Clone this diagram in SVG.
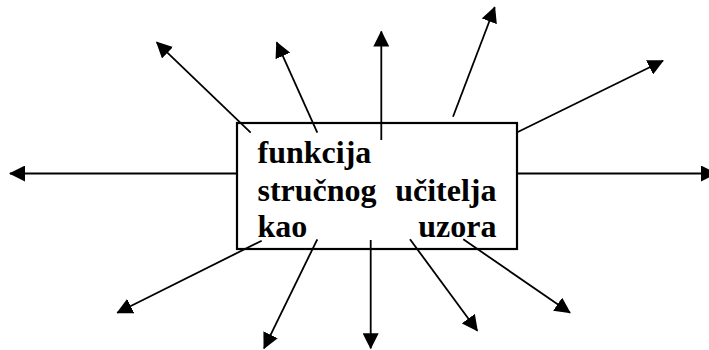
<svg xmlns="http://www.w3.org/2000/svg" width="709" height="350" viewBox="0 0 709 350">
  <style>
    .box { fill: #ffffff; stroke: #000000; stroke-width: 2.2; }
    .lbl { font-family: "Liberation Serif", "Times New Roman", serif; font-weight: bold; font-size: 32px; fill: #000000; }
    .end { text-anchor: end; }
    .conn line { stroke: #000000; stroke-width: 1.8; marker-end: url(#ah); }
  </style>
  <defs>
    <marker id="ah" markerUnits="userSpaceOnUse" markerWidth="16" markerHeight="16" viewBox="0 0 16 16" refX="15" refY="8" orient="auto">
      <path d="M0,0 L16,8 L0,16 z" fill="#000000"/>
    </marker>
  </defs>
  <g id="node-center">
    <rect class="box" x="237" y="123" width="280" height="126"/>
    <text class="lbl" x="257.5" y="163.3" font-family="Liberation Serif, serif">funkcija</text>
    <text class="lbl" x="257.5" y="200.5" font-family="Liberation Serif, serif">stručnog</text>
    <text class="lbl end" x="496.5" y="200.5" font-family="Liberation Serif, serif">učitelja</text>
    <text class="lbl" x="257.5" y="237.3" font-family="Liberation Serif, serif">kao</text>
    <text class="lbl end" x="496.5" y="237.3" font-family="Liberation Serif, serif">uzora</text>
  </g>
  <g id="connectors" class="conn">
    <line x1="237" y1="173.5" x2="10" y2="173.5"/>
    <line x1="517" y1="173.5" x2="716" y2="173.5"/>
    <line x1="250.7" y1="132.7" x2="156.7" y2="42.3"/>
    <line x1="317.3" y1="132.7" x2="276.7" y2="42.3"/>
    <line x1="381.3" y1="140" x2="381.3" y2="31.5"/>
    <line x1="453" y1="116.7" x2="494.7" y2="7.3"/>
    <line x1="517.3" y1="132.3" x2="663" y2="60.7"/>
    <line x1="261.7" y1="240.7" x2="117.3" y2="312.7"/>
    <line x1="317.3" y1="239.3" x2="264" y2="348.3"/>
    <line x1="370.7" y1="240" x2="370.7" y2="348.3"/>
    <line x1="410" y1="239.3" x2="477.3" y2="330.7"/>
    <line x1="463.3" y1="239.3" x2="570" y2="312.7"/>
  </g>
</svg>
